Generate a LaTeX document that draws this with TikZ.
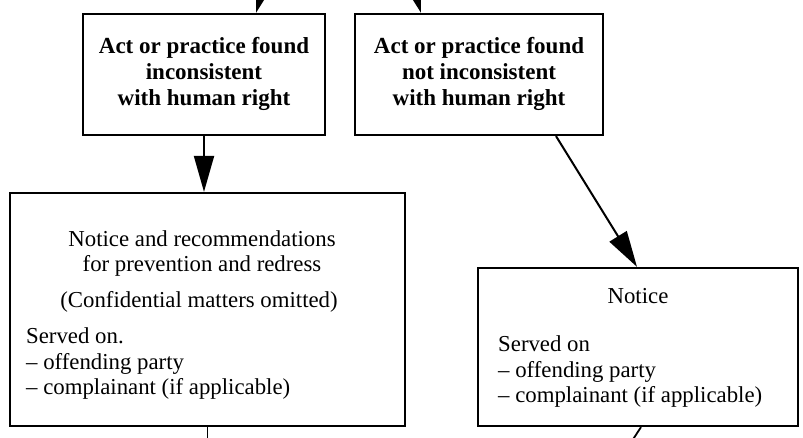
\documentclass[tikz,border=0pt]{standalone}
\usepackage{fontspec}
\setmainfont{Liberation Serif}
\usetikzlibrary{arrows.meta,calc}
\begin{document}
\begin{tikzpicture}[x=1pt,y=-1pt,
  box/.style={draw=black, line width=2.2pt, rectangle, inner sep=0pt},
  txt/.style={inner sep=0pt, font=\fontsize{22.8}{25.5}\selectfont},
  btxt/.style={inner sep=0pt, align=center, font=\fontsize{23}{26}\selectfont\bfseries},
  conn/.style={line width=2pt, -{Triangle[length=36pt,width=20pt]}},
  stub/.style={line width=1.8pt}]
\useasboundingbox (0,0) rectangle (803,438);
\clip (0,0) rectangle (803,438);
\fill[white] (0,0) rectangle (803,438);
% boxes
\node[box, minimum width=242pt, minimum height=121pt] (A) at (204,74.5) {};
\node[box, minimum width=248pt, minimum height=121pt] (B) at (479,74.5) {};
\node[box, minimum width=395pt, minimum height=233pt] (C) at (207.5,309.5) {};
\node[box, minimum width=320pt, minimum height=158pt] (D) at (638,347) {};
% texts
\node[btxt] (Atxt) at (204,74) {Act or practice found\\inconsistent\\with human right};
\node[btxt] (Btxt) at (479,74) {Act or practice found\\not inconsistent\\with human right};
\node[txt, align=center] (Ctitle) at (202,253.5) {Notice and recommendations\\for prevention and redress};
\node[txt] (Cconf) at (199,302) {(Confidential matters omitted)};
\node[txt, align=left, anchor=west] (Cserved) at (26,364) {Served on.\\-- offending party\\-- complainant (if applicable)};
\node[txt] (Dtitle) at (638,296) {Notice};
\node[txt, align=left, anchor=west] (Dserved) at (498,372) {Served on\\-- offending party\\-- complainant (if applicable)};
% free ends
\coordinate (inA) at (273,-46);
\coordinate (inB) at (404,-46);
\coordinate (outC) at (207.5,470);
\coordinate (outD) at (613,470);
% connectors
\draw[conn] (inA) -- ([xshift=52pt]A.north);
\draw[conn] (inB) -- ([xshift=-58pt]B.north);
\draw[conn] (A.south) -- (A.south |- C.north);
\draw[conn] ([xshift=77pt]B.south) -- ([xshift=-1pt]D.north);
\draw[stub] (C.south) -- (outC);
\draw[stub] ([xshift=3pt]D.south) -- (outD);
\end{tikzpicture}
\end{document}
